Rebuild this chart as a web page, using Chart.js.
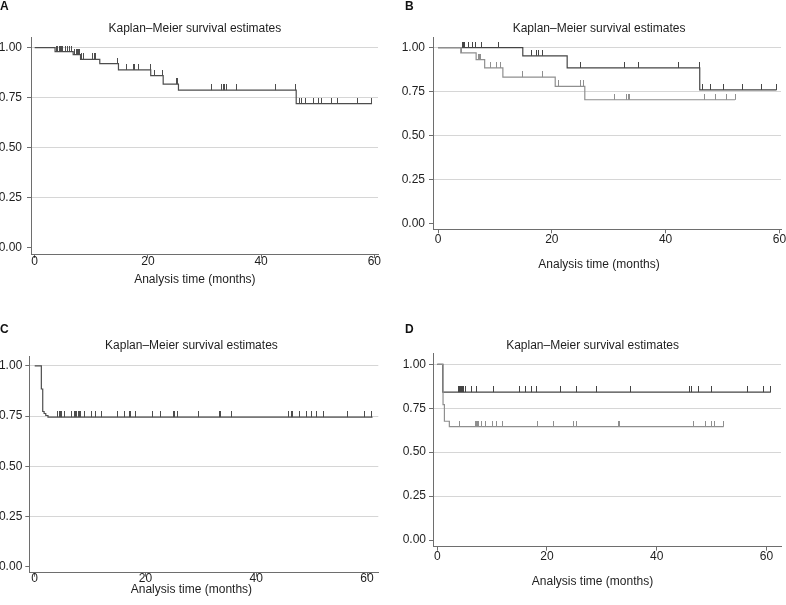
<!DOCTYPE html>
<html>
<head>
<meta charset="utf-8">
<script src="https://cdn.jsdelivr.net/npm/chart.js@4.4.1/dist/chart.umd.min.js"></script>
<style>
  body { margin: 0; background: #fff; }
  #wrap { position: relative; width: 786px; height: 605px; overflow: hidden; }
  canvas { position: absolute; }
  .tag { position: absolute; font: bold 12px "Liberation Sans", Arial, sans-serif; line-height: 12px; color: #111; }
</style>
</head>
<body>
<div id="wrap">
  <canvas id="panelA" width="393" height="300" style="left:0;top:0"></canvas>
  <canvas id="panelB" width="393" height="300" style="left:393px;top:0"></canvas>
  <canvas id="panelC" width="393" height="305" style="left:0;top:300px"></canvas>
  <canvas id="panelD" width="393" height="305" style="left:393px;top:300px"></canvas>
  <div class="tag" style="left:0;top:0">A</div>
  <div class="tag" style="left:405px;top:0">B</div>
  <div class="tag" style="left:0;top:323px">C</div>
  <div class="tag" style="left:405px;top:323px">D</div>
</div>
<script>
const xTicks = [0, 20, 40, 60]
const yTicks = [0, 0.25, 0.5, 0.75, 1]
const panelTitle = 'Kaplan–Meier survival estimates'
const xAxisTitle = 'Analysis time (months)'

// panel A
const timeA = [0, 3.6, 6.8, 8.1, 11.5, 14.8, 20.5, 22.7, 25.4, 46.2, 59.6]
const survA = [1, 0.98, 0.965, 0.942, 0.92, 0.889, 0.86, 0.818, 0.788, 0.72, 0.72]
const censorA = [3.9, 4.1, 4.3, 4.5, 4.7, 5.0, 5.5, 5.8, 6.2, 6.5, 7.1, 7.3, 7.5, 7.7, 7.9, 8.3, 8.6, 10.2, 10.5, 10.8,
  14.7, 16.2, 17.4, 17.7, 18.4, 20.4, 21.1, 22.6, 25.1, 25.3, 31.2, 33.0, 33.3, 33.6, 33.9, 35.7, 42.6, 46.0,
  46.8, 47.1, 47.9, 49.2, 50.2, 50.7, 52.4, 53.5, 57.0, 59.5]

// panel B, dark and light groups
const timeB1 = [0, 14.9, 22.7, 46.0, 59.5]
const survB1 = [1, 0.954, 0.885, 0.76, 0.76]
const censorB1 = [4.3, 4.5, 4.7, 5.4, 6.0, 6.6, 7.7, 10.7, 16.4, 17.3, 17.6, 18.4, 25.1, 32.7, 35.3, 42.3, 45.9,
  46.4, 47.9, 50.1, 53.5, 56.8, 59.5]
const timeB2 = [0, 4.0, 6.7, 8.2, 11.4, 20.6, 25.8, 52.2]
const survB2 = [1, 0.97, 0.932, 0.885, 0.833, 0.78, 0.704, 0.704]
const censorB2 = [4.1, 7.1, 7.3, 7.5, 9.2, 10.2, 11.0, 14.9, 18.4, 21.2, 25.1, 25.5, 31.1, 33.2, 33.4, 33.6,
  46.8, 48.8, 50.7, 52.2]

// panel C
const timeC = [0, 1.2, 1.45, 1.7, 2.0, 2.4, 61.0]
const survC = [1, 0.885, 0.773, 0.763, 0.753, 0.745, 0.745]
const censorC = [4.2, 4.4, 4.6, 4.8, 4.9, 5.4, 6.7, 7.1, 7.3, 7.5, 7.9, 8.1, 8.2, 9.0, 10.2, 11.0, 12.0, 14.9, 16.2,
  17.1, 17.3, 18.2, 21.2, 22.8, 25.0, 25.2, 25.8, 29.6, 33.3, 33.5, 35.6, 45.8, 46.4, 46.6, 47.8, 49.0, 49.9,
  50.8, 52.2, 56.5, 59.5, 60.9]

// panel D, dark and light groups
const timeD1 = [0, 1.0, 60.8]
const survD1 = [1, 0.842, 0.842]
const censorD1 = [3.8, 4.0, 4.2, 4.4, 4.6, 4.8, 5.2, 6.3, 7.1, 10.2, 15.0, 16.0, 17.1, 18.0, 22.4, 25.3, 29.1, 35.3,
  45.9, 46.3, 47.7, 50.0, 56.6, 59.4, 60.8]
const timeD2 = [0, 1.05, 1.3, 2.2, 52.2]
const survD2 = [1, 0.771, 0.676, 0.645, 0.645]
const censorD2 = [4.1, 6.9, 7.1, 7.3, 7.6, 8.0, 8.8, 10.0, 10.8, 11.9, 18.3, 21.1, 24.9, 25.3, 33.1, 33.3,
  46.7, 48.9, 49.9, 50.6, 52.2]

const darkColor = '#454545'
const lightColor = '#8f8f8f'
const singleColor = '#4d4d4d'
const gridColor = '#d6d6d6'
const axisColor = '#6e6e6e'
const textColor = '#1e1e1e'
const fontFamily = '"Liberation Sans", Arial, sans-serif'

function stepAt(times, surv, t) {
  let s = surv[0]
  for (let i = 0; i < times.length; i++) {
    if (times[i] <= t) s = surv[i]
  }
  return s
}

function censorMark(color) {
  let c = document.createElement('canvas')
  c.width = 1
  c.height = 12
  let g = c.getContext('2d')
  g.fillStyle = color
  g.fillRect(0, 0, 1, 6)
  return c
}

function curve(times, surv, color) {
  return {
    data: times.map((t, i) => ({ x: t, y: surv[i] })),
    showLine: true,
    stepped: true,
    borderColor: color,
    borderWidth: 1.2,
    pointRadius: 0,
    fill: false
  }
}

function censors(times, surv, marks, color) {
  return {
    data: marks.map(t => ({ x: t, y: stepAt(times, surv, t) })),
    showLine: false,
    pointStyle: censorMark(color),
    pointRadius: 3
  }
}

const kmTitles = {
  id: 'kmTitles',
  afterDraw(chart, args, opts) {
    let ctx = chart.ctx
    let x = chart.scales.x.getPixelForValue(opts.center)
    ctx.save()
    ctx.fillStyle = textColor
    ctx.font = '12px ' + fontFamily
    ctx.textAlign = 'center'
    ctx.textBaseline = 'middle'
    ctx.fillText(panelTitle, x, opts.titleY)
    ctx.fillText(xAxisTitle, x, opts.xTitleY)
    ctx.restore()
  }
}

function buildPanel(id, lay, datasets) {
  return new Chart(document.getElementById(id), {
    type: 'scatter',
    data: { datasets: datasets },
    options: {
      responsive: false,
      animation: false,
      events: [],
      layout: { padding: { top: lay.top, right: lay.right, bottom: lay.bottom, left: 0 } },
      plugins: {
        legend: { display: false },
        tooltip: { enabled: false },
        kmTitles: { center: 28.3, titleY: lay.titleY, xTitleY: lay.xTitleY }
      },
      scales: {
        x: {
          type: 'linear',
          min: lay.xMin,
          max: lay.xMax,
          afterBuildTicks: a => { a.ticks = xTicks.map(v => ({ value: v })) },
          afterFit: a => { a.height = 20 },
          grid: { drawOnChartArea: false, tickLength: 4, tickColor: axisColor },
          border: { color: axisColor, width: 1 },
          ticks: { padding: lay.xPad, color: textColor, font: { size: 12, family: fontFamily } }
        },
        y: {
          type: 'linear',
          min: lay.yMin,
          max: lay.yMax,
          afterBuildTicks: a => { a.ticks = yTicks.map(v => ({ value: v })) },
          afterFit: a => { a.width = lay.left },
          grid: {
            color: c => (c.tick && c.tick.value === 0) ? 'rgba(0,0,0,0)' : gridColor,
            tickColor: axisColor,
            tickLength: 4
          },
          border: { color: axisColor, width: 1 },
          ticks: {
            padding: lay.yPad,
            color: textColor,
            font: { size: 12, family: fontFamily },
            callback: v => v.toFixed(2)
          }
        }
      }
    },
    plugins: [kmTitles]
  })
}

buildPanel('panelA',
  { left: 31, right: 15, top: 37, bottom: 26, xMin: -0.65, xMax: 60.65, yMin: -0.0315, yMax: 1.0535, xPad: -3.5, yPad: 5, titleY: 28.3, xTitleY: 280 },
  [curve(timeA, survA, singleColor), censors(timeA, survA, censorA, singleColor)])

buildPanel('panelB',
  { left: 40, right: 4.7, top: 37.3, bottom: 50.7, xMin: -0.88, xMax: 60.28, yMin: -0.032, yMax: 1.059, xPad: -0.5, yPad: 4, titleY: 28.3, xTitleY: 265 },
  [curve(timeB2, survB2, lightColor), censors(timeB2, survB2, censorB2, lightColor),
   curve(timeB1, survB1, darkColor), censors(timeB1, survB1, censorB1, darkColor)])

buildPanel('panelC',
  { left: 29.3, right: 14.7, top: 56.7, bottom: 12.3, xMin: -0.975, xMax: 62.04, yMin: -0.03, yMax: 1.046, xPad: -5, yPad: 3, titleY: 46, xTitleY: 290 },
  [curve(timeC, survC, singleColor), censors(timeC, survC, censorC, singleColor)])

buildPanel('panelD',
  { left: 40, right: 4.7, top: 53.3, bottom: 38.3, xMin: -0.78, xMax: 62.66, yMin: -0.038, yMax: 1.0626, xPad: -1.2, yPad: 3, titleY: 46, xTitleY: 281.7 },
  [curve(timeD2, survD2, lightColor), censors(timeD2, survD2, censorD2, lightColor),
   curve(timeD1, survD1, darkColor), censors(timeD1, survD1, censorD1, darkColor)])
</script>
</body>
</html>
